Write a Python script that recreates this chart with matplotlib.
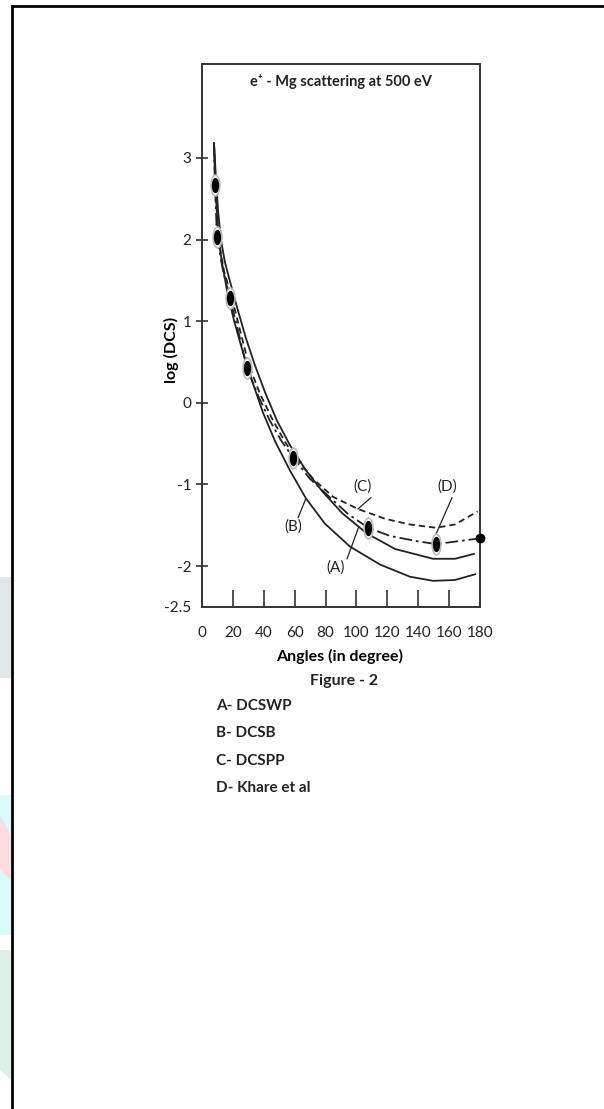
import matplotlib
matplotlib.use("Agg")
import matplotlib.pyplot as plt
from matplotlib.lines import Line2D
from matplotlib.patches import Polygon
from matplotlib.path import Path
from matplotlib.transforms import Affine2D

FONT = ["Lato", "DejaVu Sans"]

# curve A - DCSWP (solid, upper)
a_deg = [7.8, 9.1, 10.4, 12.3, 14.9, 18.8, 23.3, 28.5, 34.3, 40.8, 48.6, 57.0, 66.7, 77.7, 90.7,
         106.8, 125.0, 149.6, 163.8, 176.1]
a_val = [3.18, 2.73, 2.36, 1.99, 1.72, 1.44, 1.13, 0.79, 0.46, 0.13, -0.22, -0.52, -0.81, -1.08, -1.35,
         -1.60, -1.79, -1.91, -1.91, -1.85]

# curve B - DCSB (solid, lower)
b_deg = [7.8, 8.4, 9.7, 11.0, 12.9, 16.2, 20.7, 26.5, 32.4, 39.5, 47.3, 57.0, 67.3, 79.6, 95.8,
         115.2, 134.7, 149.6, 163.8, 176.8]
b_val = [3.18, 2.73, 2.30, 1.99, 1.72, 1.38, 1.01, 0.62, 0.27, -0.12, -0.47, -0.83, -1.17, -1.48, -1.76,
         -1.98, -2.13, -2.18, -2.17, -2.10]

# curve C - DCSPP (dashed)
c_deg = [7.8, 9.1, 10.4, 14.2, 19.4, 24.6, 30.4, 37.6, 45.3, 53.1, 60.9, 71.9, 84.8, 101.0, 118.5,
         134.7, 151.5, 163.8, 178.5]
c_val = [3.16, 2.60, 2.03, 1.62, 1.28, 0.89, 0.46, 0.11, -0.19, -0.46, -0.68, -0.93, -1.15, -1.30, -1.42,
         -1.49, -1.53, -1.49, -1.33]

# curve D - Khare et al (dash-dot)
d_deg = [7.8, 8.4, 9.7, 13.6, 18.1, 23.3, 29.1, 36.3, 44.0, 51.2, 58.9, 69.9, 82.9, 94.5, 107.5,
         121.7, 137.9, 151.5, 163.8, 180]
d_val = [3.18, 2.67, 2.03, 1.62, 1.28, 0.89, 0.43, 0.09, -0.22, -0.46, -0.67, -0.93, -1.16, -1.36, -1.53,
         -1.63, -1.69, -1.73, -1.70, -1.66]

# data points
pts_deg = [8.4, 9.7, 18.1, 29.1, 58.9, 107.5, 151.5]
pts_val = [2.67, 2.03, 1.28, 0.43, -0.67, -1.53, -1.73]
end_deg = [180]
end_val = [-1.66]

xticks = [0, 20, 40, 60, 80, 100, 120, 140, 160, 180]
yticks = [3, 2, 1, 0, -1, -2, -2.5]
ytick_labels = ["3", "2", "1", "0", "-1", "-2", "-2.5"]

legend_lines = ["A- DCSWP", "B- DCSB", "C- DCSPP", "D- Khare et al"]

fig = plt.figure(figsize=(6.04, 11.09), dpi=100)
ax = fig.add_axes([0.3344, 0.4527, 0.4603, 0.4896])

ink = "#222222"
ax.plot(a_deg, a_val, color=ink, lw=1.3)
ax.plot(b_deg, b_val, color=ink, lw=1.3)
ax.plot(c_deg, c_val, color=ink, lw=1.3, linestyle=(0, (3.5, 2.2)))
ax.plot(d_deg, d_val, color=ink, lw=1.3, linestyle=(0, (7, 2.2, 1.5, 2.2)))

ell = Path.unit_circle().transformed(Affine2D().scale(0.42, 1.0))
ax.plot(pts_deg, pts_val, linestyle="none", marker=ell, markersize=15,
        markerfacecolor="white", markeredgecolor="#bbbbbb", markeredgewidth=1.2, zorder=4)
ax.plot(pts_deg, pts_val, linestyle="none", marker=ell, markersize=10,
        markerfacecolor="black", markeredgecolor="black", zorder=5)
ax.plot(end_deg, end_val, linestyle="none", marker="o", markersize=6,
        color="black", clip_on=False, zorder=5)

ax.set_xlim(0, 180)
ax.set_ylim(-2.5, 4.15)

ax.set_xticks(xticks)
ax.set_xticklabels([str(v) for v in xticks], fontsize=11, family=FONT, color=ink)
ax.set_yticks(yticks)
ax.set_yticklabels(ytick_labels, fontsize=11, family=FONT, color=ink)
ax.tick_params(axis="x", direction="in", length=12, width=1.2, pad=14, color="#333333")
ax.tick_params(axis="y", direction="inout", length=9, width=1.2, pad=3, color="#333333")
ax.xaxis.get_major_ticks()[0].tick1line.set_visible(False)
ax.xaxis.get_major_ticks()[-1].tick1line.set_visible(False)
ax.yaxis.get_major_ticks()[-1].tick1line.set_visible(False)

for s in ax.spines.values():
    s.set_linewidth(1.4)
    s.set_color("#333333")

ax.text(0.5, 0.967, "e\u207a - Mg scattering at 500 eV", transform=ax.transAxes, ha="center", va="center",
        fontsize=10.5, fontweight="bold", family=FONT, color=ink)

ax.set_ylabel("log (DCS)", fontsize=11.5, fontweight="bold", family=FONT)
ax.yaxis.set_label_coords(-0.083, 0.473)
ax.set_xlabel("Angles (in degree)", fontsize=11.5, fontweight="bold", family=FONT)
ax.xaxis.set_label_coords(0.496, -0.077)

# curve labels with pointer lines
lab = dict(fontsize=11, family=FONT, color=ink, ha="center", va="center")
ln = dict(arrowstyle="-", color=ink, lw=0.9, shrinkA=0, shrinkB=0)
ax.text(104, -1.02, "(C)", **lab)
ax.annotate("", xy=(101, -1.30), xytext=(109.4, -1.16), arrowprops=ln)
ax.text(159, -1.02, "(D)", **lab)
ax.annotate("", xy=(148.9, -1.72), xytext=(161.9, -1.16), arrowprops=ln)
ax.text(59, -1.51, "(B)", **lab)
ax.annotate("", xy=(67.3, -1.17), xytext=(62.2, -1.41), arrowprops=ln)
ax.text(86.8, -2.02, "(A)", **lab)
ax.annotate("", xy=(101.5, -1.52), xytext=(93.9, -1.91), arrowprops=ln)

fig.text(0.5695, 1 - 681 / 1109, "Figure - 2", ha="center", va="center", fontsize=11.5,
         fontweight="bold", family=FONT, color=ink)
for i, s in enumerate(legend_lines):
    fig.text(216 / 604, 1 - (706 + 27.3 * i) / 1109, s, ha="left", va="center", fontsize=11,
             fontweight="bold", family=FONT, color=ink)

# outer frame
fig.add_artist(Line2D([11.5 / 604, 11.5 / 604], [0, 1 - 6 / 1109], color="black", lw=2))
fig.add_artist(Line2D([11.5 / 604, 1], [1 - 6 / 1109, 1 - 6 / 1109], color="black", lw=2))

# faint watermark pieces at the left edge
def fpoly(pts, color):
    fig.add_artist(Polygon([(x / 604, 1 - y / 1109) for x, y in pts], closed=True,
                           facecolor=color, edgecolor="none", zorder=0))

fpoly([(0, 577), (11, 577), (11, 678), (0, 678)], "#e2e7ea")
fpoly([(0, 795), (11, 795), (11, 935), (0, 935)], "#d9fbfb")
fpoly([(0, 815), (11, 835), (11, 880), (0, 870)], "#fbdde0")
fpoly([(0, 950), (11, 950), (11, 1080), (0, 1070)], "#d9f1e6")

fig.savefig("out.png", dpi=100, facecolor="white")
